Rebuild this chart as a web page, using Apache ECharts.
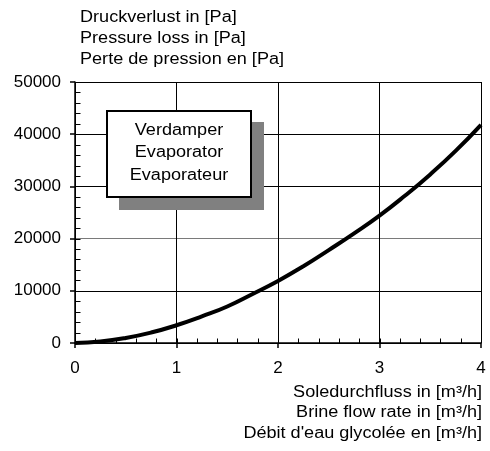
<!DOCTYPE html>
<html>
<head>
<meta charset="utf-8">
<script src="https://cdn.jsdelivr.net/npm/echarts@6/dist/echarts.min.js"></script>
<style>
  html, body { margin: 0; padding: 0; background: #fff; }
  #chart { width: 490px; height: 451px; }
</style>
</head>
<body>
<div id="chart"></div>
<script>
// Brine flow rate [m³/h]
const flowRate = [0, 0.25, 0.5, 0.75, 1, 1.25, 1.5, 1.75, 2, 2.25, 2.5, 2.75, 3, 3.25, 3.5, 3.75, 4];
// Pressure loss [Pa]
const pressureLoss = [0, 280, 960, 2000, 3400, 5100, 7000, 9400, 11900, 14700, 17800, 21000, 24400, 28200, 32300, 36800, 41800];

const yTitleLines = ['Druckverlust in [Pa]', 'Pressure loss in [Pa]', 'Perte de pression en [Pa]'];
const xTitleLines = ['Soledurchfluss in [m³/h]', 'Brine flow rate in [m³/h]', 'Débit d\'eau glycolée en [m³/h]'];
const boxLines = ['Verdamper', 'Evaporator', 'Evaporateur'];

// Axis ranges and fine-tick spacing
const X_MAX = 4, X_STEP = 1, X_FINE = 0.2;
const Y_MAX = 50000, Y_STEP = 10000, Y_FINE = 2000;

const FONT = '"Liberation Sans", Arial, sans-serif';
const STRETCH = 1.13; // labels are set slightly wide
const TICK = 5;
const chart = echarts.init(document.getElementById('chart'), null, { renderer: 'canvas' });

// fine tick values along each axis
const xFine = [], yFine = [];
for (let i = 1; i * X_FINE < X_MAX - 1e-9; i++) xFine.push([+(i * X_FINE).toFixed(2), 0]);
for (let i = 1; i * Y_FINE < Y_MAX; i++) yFine.push([0, i * Y_FINE]);

// draws one inward fine tick at a value on the axis
function fineTick(dir) {
  return function (params, api) {
    const p = api.coord([api.value(0), api.value(1)]);
    const x = Math.round(p[0]) + 0.5, y = Math.round(p[1]) + 0.5;
    const shape = dir === 'x'
      ? { x1: x, y1: y, x2: x, y2: y - TICK }
      : { x1: x, y1: y, x2: x + TICK, y2: y };
    return { type: 'line', shape, style: { stroke: '#000', lineWidth: 1 } };
  };
}

const option = {
  animation: false,
  grid: { left: 75, right: 9, top: 82, bottom: 108, containLabel: false },
  xAxis: {
    type: 'value', min: 0, max: X_MAX, interval: X_STEP,
    axisLine: { show: true, lineStyle: { color: '#000', width: 1.5 } },
    axisTick: { show: true, length: TICK, inside: false, lineStyle: { color: '#000', width: 1.5 } },
    axisLabel: { color: '#000', fontSize: 17, fontFamily: FONT, margin: 17 },
    splitLine: { show: true, lineStyle: { color: '#000', width: 1 } },
    z: 3
  },
  yAxis: {
    type: 'value', min: 0, max: Y_MAX, interval: Y_STEP,
    axisLine: { show: true, lineStyle: { color: '#000', width: 1.5 } },
    axisTick: { show: true, length: TICK, inside: false, lineStyle: { color: '#000', width: 1.5 } },
    axisLabel: { color: '#000', fontSize: 17, fontFamily: FONT, margin: 14, formatter: v => String(v) },
    splitLine: { show: true, lineStyle: { color: ['#000', '#000', '#7a7a7a', '#000', '#000', '#000'], width: 1.2 } },
    z: 3
  },
  series: [{
    type: 'custom', data: xFine, renderItem: fineTick('x'), silent: true, z: 4
  }, {
    type: 'custom', data: yFine, renderItem: fineTick('y'), silent: true, z: 4
  }, {
    type: 'line',
    data: flowRate.map((x, i) => [x, pressureLoss[i]]),
    smooth: true,
    showSymbol: false,
    lineStyle: { color: '#000', width: 4 },
    z: 5
  }],
  graphic: [
    // y-axis title (three languages)
    {
      type: 'text', x: 80, y: 7, scaleX: STRETCH, z: 10,
      style: { text: yTitleLines.join('\n'), font: '16px ' + FONT, fill: '#000', lineHeight: 21, align: 'left', verticalAlign: 'top' }
    },
    // x-axis title (three languages), right aligned
    {
      type: 'text', x: 482, y: 382, scaleX: STRETCH, z: 10,
      style: { text: xTitleLines.join('\n'), font: '16px ' + FONT, fill: '#000', lineHeight: 20.5, align: 'right', verticalAlign: 'top' }
    },
    // label box shadow
    {
      type: 'rect', shape: { x: 119, y: 122, width: 145, height: 88 }, z: 10,
      style: { fill: '#808080' }
    },
    // label box
    {
      type: 'rect', shape: { x: 107, y: 111, width: 144, height: 86 }, z: 11,
      style: { fill: '#fff', stroke: '#000', lineWidth: 2 }
    },
    {
      type: 'text', x: 179, y: 153, scaleX: STRETCH, z: 12,
      style: { text: boxLines.join('\n'), font: '16px ' + FONT, fill: '#000', lineHeight: 22.5, align: 'center', verticalAlign: 'middle' }
    }
  ]
};

chart.setOption(option);
</script>
</body>
</html>
